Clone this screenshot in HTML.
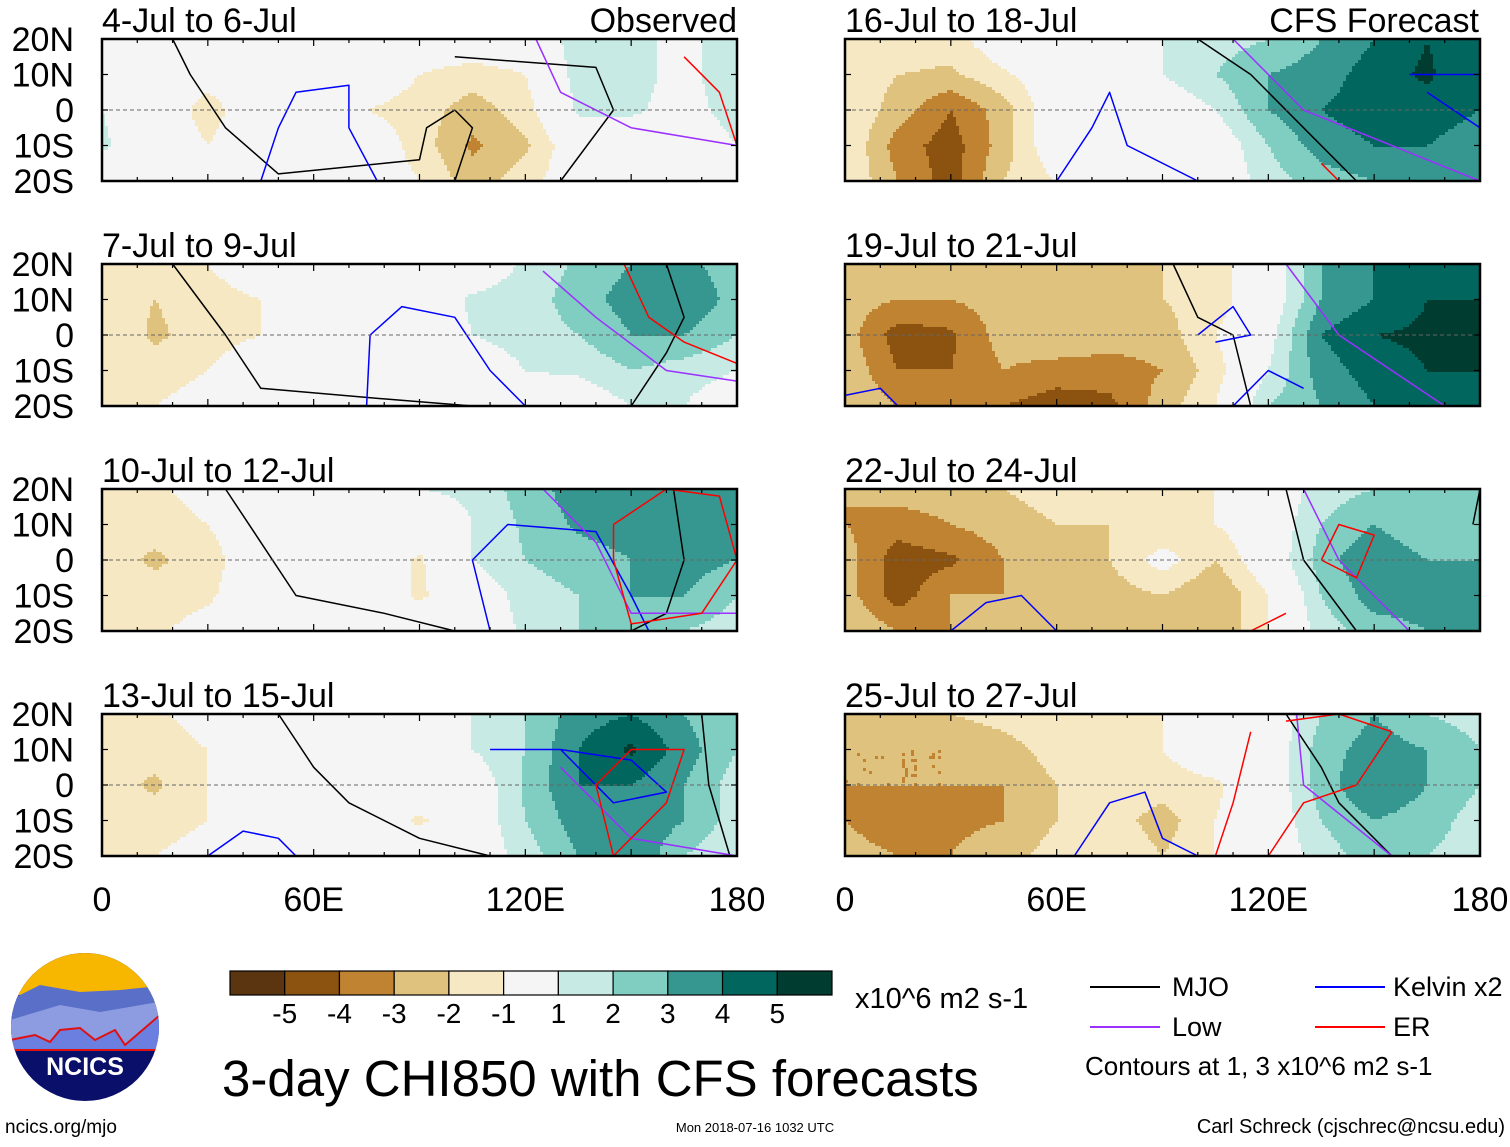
<!DOCTYPE html>
<html><head><meta charset="utf-8"><style>
body{margin:0;background:#fff;font-family:"Liberation Sans",sans-serif;}
svg text{font-family:"Liberation Sans",sans-serif;}
</style></head><body>
<svg id="main" width="1510" height="1142" xmlns="http://www.w3.org/2000/svg">
<g id="fields"></g><g id="lines"></g><g id="frames"></g>
<g id="deco"></g>
</svg>
<script>
const levelColors=["#5a3510","#8c520f","#c08331","#dfc27d","#f6e8c3","#f5f5f5","#c7eae5","#80cdc1","#35978f","#01665e","#003c30"];
const levelBounds=[-5,-4,-3,-2,-1,1,2,3,4,5];
const lons=[0,15,30,45,60,75,90,105,120,135,150,165,180];
const lats=[20,10,0,-10,-20];
const panelTitles=["4-Jul to 6-Jul","7-Jul to 9-Jul","10-Jul to 12-Jul","13-Jul to 15-Jul","16-Jul to 18-Jul","19-Jul to 21-Jul","22-Jul to 24-Jul","25-Jul to 27-Jul"];
const field1=[[0,0,0,0,0,0,0,0,0,1.5,1.5,0.5,2],[0.5,0,-0.5,0,0,0,-1,-1.5,-1,1.5,1.5,0.5,2],[1,0,-1.5,0,0,-1,-1.5,-2.5,-1.5,1.2,1.2,0.5,1.5],[1.2,0,-1,0,0,0,-1.5,-3.2,-2.2,0,0,0,1],[0,0,0,0,0,0,-1,-2.5,-1.5,0,0,0,0]];
const field2=[[-1.2,-1.5,-1,0,0,0,0,0,1.2,2.2,3,3.2,2.5],[-1.5,-2,-1.5,-1,0,0,0,1.2,1.5,2.5,3.5,4,2.5],[-1,-2.2,-1.5,-1,0,0,0,1,1.5,2,3,3,2],[-1,-1.5,-1,0,0,0,0,0,1,1.2,2,1.5,1],[-1,-1,-0.5,0,0,0,0,0,0,0,1,1,0]];
const field3=[[-1.2,-1.2,-0.5,0,0,0,1,1.2,2.5,3.5,3.5,3.5,3],[-1.5,-1.5,-1,0,0,0,0,1,2.2,3.2,3.5,3.5,3],[-1.5,-2.2,-1.5,0,0,0,-1.2,1,2,2.5,3,3.5,3],[-1.5,-1.5,-1.2,0,0,0,-1.2,0,1.5,2,3,3,2],[-1.2,-1.2,-0.5,0,0,0,0,0,1.2,2,2.5,2,1.5]];
const field4=[[-1.2,-1.2,-0.5,0,0,0,0,1,2,3.5,4,3,2],[-1.5,-1.5,-1,0,0,0,0,1,2,4,5.2,3.5,2],[-1.5,-2.2,-1,0,0,0,0,0,2.2,4,4,3,1.5],[-1.5,-1.5,-1,0,0,0,-1.2,0,2,3.5,4,3,1.5],[-1.2,-1,-0.5,0,0,0,0,0,1.5,3,4,2,1]];
const field5=[[-1.5,-1.2,-1.5,0,0,0,1,1.5,2,3,4,5,4],[-1.2,-2,-2.2,-1.2,0,0,1,2,3,3.5,4.5,5.2,4],[-1,-2.5,-4,-2.5,0,0,0,1,3,4,4.5,4.5,4],[-1,-3.5,-4.5,-2.5,0,0,0,0,2,3.5,4,4,3.5],[-1,-3,-4.5,-2,-1,0,-1,0,1.5,2.5,3,3,3]];
const field6=[[-2,-2.5,-2.5,-2,-2.5,-2.5,-2,-1.5,0,3,4,4,4],[-2.5,-3,-3,-2.5,-2,-2,-2,-1.5,0,3,4,5,5],[-2.5,-4.5,-4.2,-2.5,-2,-2.5,-2.5,-1,0.5,4,5,5.2,5],[-2.2,-4,-4,-3,-3.5,-3.5,-3,-1.5,1,3.5,4.5,5,5],[-2,-3,-3,-4,-4.5,-4.3,-2.5,-1,2,3,4,4.5,4]];
const field7=[[-3,-2.5,-2.5,-2,-1.5,-1.5,-1.5,-1,0,1.5,2,2,2],[-3,-3.5,-3,-2.5,-2,-2,-2,-1,0,2,3,2,2.5],[-2.5,-4.6,-4.2,-3,-2.2,-2,-0.5,-2,0,2.5,4,3,3],[-2.5,-4.5,-3,-3,-2.5,-2.5,-2,-3,-1,2,3.5,3.5,4],[-2,-3,-3,-2.5,-2.5,-2,-2,-3,-1,1.5,2.5,3,4]];
const field8=[[-2.5,-2.5,-2,-1.5,-1,-1.5,-1,0,0,2,3,2,1.5],[-3,-3,-3,-2.5,-1.5,-1.2,-1,0,0,2.5,3.5,3,2],[-3,-3,-3,-3,-2,-1,-1.5,-1.2,0,2.5,4,3,2],[-3,-3.8,-3.2,-3,-2,-1.5,-2.5,-1,0,2,3,2.5,1.5],[-2.5,-3,-3,-2.5,-1.5,-1,-2,-1,0,1.5,2.5,2,1.5]];
const fields=[field1,field2,field3,field4,field5,field6,field7,field8];
const mjo=[[[[20,20],[25,10],[35,-5],[50,-18],[80,-15],[90,-14],[92,-5],[100,0],[105,-5],[100,-20]],[[100,15],[140,12],[145,0],[130,-20]]],
[[[20,20],[35,0],[45,-15],[80,-18],[105,-20]],[[150,-20],[160,-5],[165,5],[160,20]]],
[[[35,20],[45,5],[55,-10],[80,-15],[100,-20]],[[162,20],[165,0],[160,-15],[150,-20]]],
[[[50,20],[60,5],[70,-5],[90,-15],[110,-20]],[[170,20],[172,0],[178,-20]]],
[[[100,20],[115,10],[130,-5],[145,-20]]],
[[[93,20],[100,5],[110,0],[115,-20]]],
[[[125,20],[130,0],[145,-20]],[[178,10],[180,20]]],
[[[125,20],[135,5],[140,-5],[155,-20]]]];
const kelvin=[[[[45,-20],[50,-5],[55,5],[70,7],[70,-5],[78,-20]]],
[[[75,-20],[76,0],[85,8],[100,5],[110,-10],[120,-20]]],
[[[110,-20],[105,0],[115,10],[140,8],[150,-10],[155,-20]]],
[[[30,-20],[40,-13],[50,-15],[55,-20]],[[110,10],[130,10],[150,7],[160,-2],[145,-5],[130,10]]],
[[[60,-20],[70,-5],[75,5],[80,-10],[100,-20]],[[160,10],[180,10],[180,-5],[165,5]]],
[[[0,-17],[10,-15],[15,-20]],[[100,0],[110,8],[115,0],[105,-2]],[[110,-20],[120,-10],[130,-15]]],
[[[30,-20],[40,-12],[50,-10],[60,-20]]],
[[[65,-20],[75,-5],[85,-2],[90,-15],[100,-20]]]];
const lowWave=[[[[123,20],[130,5],[150,-5],[180,-10]]],[[[125,18],[140,5],[160,-10],[180,-13]]],[[[125,20],[140,5],[150,-15],[180,-15]]],[[[130,5],[140,-5],[150,-15],[180,-20]]],[[[110,20],[130,0],[180,-20]]],[[[125,20],[140,0],[170,-20]]],[[[130,20],[140,0],[160,-20]]],[[[128,20],[130,0],[155,-20]]]];
const erWave=[[[[165,15],[175,5],[180,-10]]],[[[148,20],[155,5],[165,-2],[180,-8]]],[[[145,10],[160,20],[175,18],[180,0],[170,-15],[150,-18],[145,0],[145,10]]],[[[140,0],[150,10],[165,10],[160,-5],[145,-20],[140,0]]],[[[135,-15],[140,-20]]],[],[[[135,0],[140,10],[150,7],[145,-5],[135,0]],[[115,-20],[125,-15]]],[[[105,-20],[110,-5],[115,15]],[[120,-20],[130,-5],[145,0],[155,15],[140,20],[125,18]]]];
const lonTicks=["0","60E","120E","180"];
const latTicks=["20N","10N","0","10S","20S"];
const cbLabels=["-5","-4","-3","-2","-1","1","2","3","4","5"];

const NS="http://www.w3.org/2000/svg";
function mk(tag,attrs,parent){const e=document.createElementNS(NS,tag);for(const k in attrs)e.setAttribute(k,attrs[k]);parent.appendChild(e);return e;}
const PW=635,PH=142;
const px0=[102,845],py0=[39,264,489,714];
function panelPos(i){return {x:px0[i<4?0:1],y:py0[i%4]};}
function level(v){let k=0;while(k<levelBounds.length&&v>=levelBounds[k])k++;return k;}
function sample(f,lon,lat){
 let fi=lon/15,fj=(20-lat)/10;let i=Math.max(0,Math.min(Math.floor(fi),11)),j=Math.max(0,Math.min(Math.floor(fj),3));
 let u=fi-i,v=fj-j;
 return f[j][i]*(1-u)*(1-v)+f[j][i+1]*u*(1-v)+f[j+1][i]*(1-u)*v+f[j+1][i+1]*u*v;}
const G=document.getElementById('fields'),L=document.getElementById('lines'),F=document.getElementById('frames'),D=document.getElementById('deco');
const step=3;
fields.forEach((f,p)=>{
 const {x,y}=panelPos(p);
 const g=mk('g',{},G);
 
 
 for(let r=0;r<PH;r+=step){
  const lat=20-Math.min(r+step/2,PH)/PH*40;
  let runStart=0,runLev=null;
  const cols=Math.ceil(PW/step);
  for(let ci=0;ci<=cols;ci++){
   const c=Math.min(ci*step,PW);
   let lev=null;
   if(ci<cols){const lon=Math.min((c+step/2)/PW*180,180);lev=level(sample(f,lon,lat));}
   if(lev!==runLev){
    if(runLev!==null){
     const rc=mk('rect',{x:x+runStart,y:y+r,width:c-runStart+0.5,height:Math.min(step,PH-r)+0.5,fill:levelColors[runLev]},g);
     
     
    }
    runStart=c;runLev=lev;
   }
  }
 }
});
function lx(p,lon){return panelPos(p).x+lon/180*PW;}
function ly(p,lat){return panelPos(p).y+(20-lat)/40*PH;}
function drawSet(set,color,name){
 set.forEach((lines,p)=>{lines.forEach(pts=>{
  const d=pts.map((q,k)=>(k?'L':'M')+lx(p,q[0]).toFixed(1)+','+ly(p,q[1]).toFixed(1)).join(' ');
  const e=mk('path',{d:d,fill:'none',stroke:color,'stroke-width':1.5,'stroke-linejoin':'round'},L);
  
  
 });});}
drawSet(mjo,'#000','mjo-contour');
drawSet(kelvin,'#0000ff','kelvin-contour');
drawSet(lowWave,'#9b30ff','low-contour');
drawSet(erWave,'#ff0000','er-contour');
for(let p=0;p<8;p++){
 const {x,y}=panelPos(p);
 const eq=mk('line',{x1:x,x2:x+PW,y1:y+PH/2,y2:y+PH/2,stroke:'#666','stroke-dasharray':'4,3','stroke-width':1},F);
 
 
 const b=mk('rect',{x:x,y:y,width:PW,height:PH,fill:'none',stroke:'#000','stroke-width':2.5},F);
 
 
 for(let lon=0;lon<=180;lon+=10){const tx=x+lon/180*PW;const len=lon%30==0?7:4;
  mk('line',{x1:tx,x2:tx,y1:y,y2:y+len,stroke:'#000','stroke-width':1.2},F);
  mk('line',{x1:tx,x2:tx,y1:y+PH,y2:y+PH-len,stroke:'#000','stroke-width':1.2},F);}
 for(let k=0;k<5;k++){const ty=y+k*PH/4;
  mk('line',{x1:x,x2:x+6,y1:ty,y2:ty,stroke:'#000','stroke-width':1.2},F);
  mk('line',{x1:x+PW,x2:x+PW-6,y1:ty,y2:ty,stroke:'#000','stroke-width':1.2},F);}
 const t=mk('text',{x:x,y:y-7,'font-size':34},F);t.textContent=panelTitles[p];
 
 
 if(p<4){latTicks.forEach((s,k)=>{const tl=mk('text',{x:74,y:y+k*PH/4+12,'font-size':34,'text-anchor':'end'},F);tl.textContent=s;
  
  });}
 if(p%4==3){lonTicks.forEach((s,k)=>{const tl=mk('text',{x:x+k*PW/3,y:911,'font-size':34,'text-anchor':'middle'},F);tl.textContent=s;
  
  });}
}
const cbx=230,cbw=602/11;
levelColors.forEach((c,k)=>{const r=mk('rect',{x:cbx+k*cbw,y:971,width:cbw,height:24,fill:c,stroke:'#000','stroke-width':1.2},D);
 
 });
cbLabels.forEach((s,k)=>{const t=mk('text',{x:cbx+(k+1)*cbw,y:1023,'font-size':28,'text-anchor':'middle'},D);t.textContent=s;
 
 });
</script>
<svg style="position:absolute;left:0;top:0" width="1510" height="1142" xmlns="http://www.w3.org/2000/svg">
<text x="737" y="32" font-size="34" text-anchor="end">Observed</text>
<text x="1479" y="32" font-size="34" text-anchor="end">CFS Forecast</text>
<text x="855" y="1008" font-size="29">x10^6 m2 s-1</text>
<text x="222" y="1096" font-size="51">3-day CHI850 with CFS forecasts</text>
<g font-size="27">
<line x1="1090" x2="1160" y1="987" y2="987" stroke="#000" stroke-width="2"/><text x="1172" y="996">MJO</text>
<line x1="1315" x2="1385" y1="987" y2="987" stroke="#0000ff" stroke-width="2"/><text x="1393" y="996">Kelvin x2</text>
<line x1="1090" x2="1160" y1="1027" y2="1027" stroke="#9b30ff" stroke-width="2"/><text x="1172" y="1036">Low</text>
<line x1="1315" x2="1385" y1="1027" y2="1027" stroke="#ff0000" stroke-width="2"/><text x="1393" y="1036">ER</text>
<text x="1085" y="1075" font-size="26">Contours at 1, 3 x10^6 m2 s-1</text>
</g>
<g>
<clipPath id="cl"><circle cx="85" cy="1027" r="74"/></clipPath>
<g clip-path="url(#cl)">
<rect x="0" y="950" width="170" height="160" fill="#0a0f6a"/>
<rect x="0" y="950" width="170" height="45" fill="#f7b600"/>
<path d="M10,1000 L40,985 L80,992 L120,990 L170,985 L170,1040 L0,1040Z" fill="#5a6fc8"/>
<path d="M10,1020 L60,1005 L100,1012 L170,1000 L170,1050 L0,1050Z" fill="#8d9be0"/>
<path d="M10,1040 L35,1035 L50,1042 L60,1030 L80,1028 L95,1040 L115,1030 L125,1045 L160,1015 L160,1050 L10,1050Z" fill="#6b7fe0" stroke="#e01010" stroke-width="2"/>
</g>
<text x="85" y="1075" font-size="25" font-weight="bold" fill="#fff" text-anchor="middle">NCICS</text>
</g>
<text x="5" y="1133" font-size="19">ncics.org/mjo</text>
<text x="755" y="1132" font-size="13" text-anchor="middle">Mon 2018-07-16 1032 UTC</text>
<text x="1505" y="1133" font-size="20" text-anchor="end">Carl Schreck (cjschrec@ncsu.edu)</text>
</svg>
</body></html>
